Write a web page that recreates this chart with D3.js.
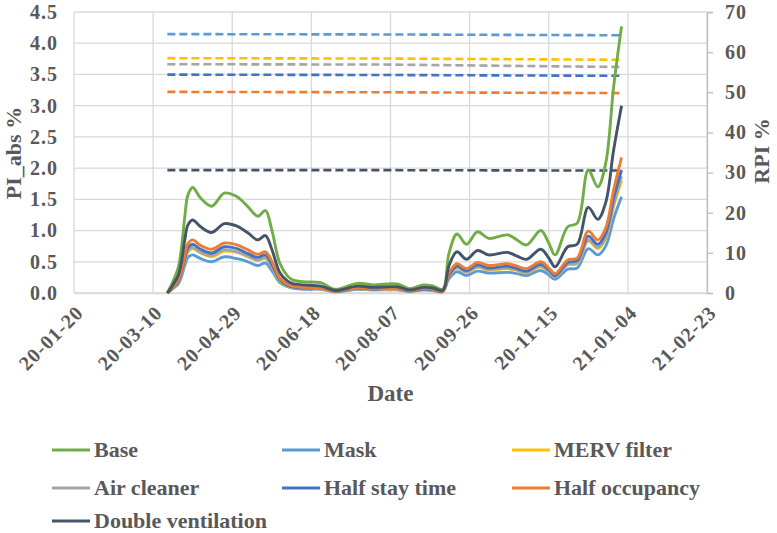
<!DOCTYPE html>
<html>
<head>
<meta charset="utf-8">
<script src="https://cdn.jsdelivr.net/npm/d3@7"></script>
<style>
  body { margin: 0; background: #fff; }
  svg text { font-family: "Liberation Serif", "Times New Roman", serif; font-weight: bold; fill: #595959; }
</style>
</head>
<body>
<div id="chart"></div>
<script>
// dates of the daily samples
const dates = [
  '2020-03-19', '2020-03-23', '2020-03-26', '2020-03-28', '2020-03-30', '2020-04-01', '2020-04-04', '2020-04-09', '2020-04-16', '2020-04-24',
  '2020-05-02', '2020-05-09', '2020-05-15', '2020-05-20', '2020-05-24', '2020-05-29', '2020-06-03', '2020-06-06', '2020-06-13', '2020-06-24',
  '2020-07-03', '2020-07-17', '2020-07-27', '2020-08-11', '2020-08-19', '2020-08-28', '2020-09-03', '2020-09-09', '2020-09-13', '2020-09-18',
  '2020-09-24', '2020-10-01', '2020-10-08', '2020-10-20', '2020-10-26', '2020-11-01', '2020-11-10', '2020-11-15', '2020-11-19', '2020-11-27',
  '2020-12-03', '2020-12-10', '2020-12-16', '2020-12-21', '2020-12-26', '2020-12-31'
];

// PI_abs % (left axis)
const base = [
  0, 0.21, 0.42, 0.74, 1.22, 1.57, 1.69, 1.52, 1.39, 1.60,
  1.54, 1.38, 1.23, 1.32, 1.01, 0.48, 0.27, 0.21, 0.18, 0.165,
  0.06, 0.155, 0.13, 0.145, 0.07, 0.13, 0.11, 0.06, 0.64, 0.945,
  0.78, 0.98, 0.875, 0.93, 0.85, 0.77, 1.00, 0.80, 0.61, 1.06,
  1.12, 1.97, 1.70, 2.08, 3.30, 4.27
];
const mask = [
  0, 0.08, 0.15, 0.27, 0.44, 0.57, 0.61, 0.55, 0.50, 0.58,
  0.55, 0.50, 0.44, 0.48, 0.36, 0.17, 0.10, 0.08, 0.06, 0.06,
  0.02, 0.06, 0.05, 0.05, 0.03, 0.05, 0.04, 0.02, 0.23, 0.34,
  0.28, 0.35, 0.32, 0.33, 0.31, 0.28, 0.36, 0.29, 0.22, 0.38,
  0.40, 0.71, 0.61, 0.75, 1.19, 1.54
];
const merv = [
  0, 0.09, 0.18, 0.31, 0.51, 0.66, 0.71, 0.64, 0.58, 0.67,
  0.65, 0.58, 0.52, 0.55, 0.42, 0.20, 0.11, 0.09, 0.08, 0.07,
  0.03, 0.07, 0.05, 0.06, 0.03, 0.05, 0.05, 0.03, 0.27, 0.40,
  0.33, 0.41, 0.37, 0.39, 0.36, 0.32, 0.42, 0.34, 0.26, 0.45,
  0.47, 0.83, 0.71, 0.87, 1.39, 1.80
];
const airCleaner = [
  0, 0.09, 0.18, 0.32, 0.52, 0.68, 0.73, 0.65, 0.60, 0.69,
  0.66, 0.59, 0.53, 0.57, 0.43, 0.21, 0.12, 0.09, 0.08, 0.07,
  0.03, 0.07, 0.06, 0.06, 0.03, 0.06, 0.05, 0.03, 0.28, 0.41,
  0.34, 0.42, 0.38, 0.40, 0.37, 0.33, 0.43, 0.34, 0.26, 0.46,
  0.48, 0.85, 0.73, 0.89, 1.42, 1.87
];
const halfStay = [
  0, 0.10, 0.19, 0.34, 0.56, 0.72, 0.78, 0.70, 0.64, 0.74,
  0.71, 0.63, 0.57, 0.61, 0.46, 0.22, 0.12, 0.10, 0.08, 0.08,
  0.03, 0.07, 0.06, 0.07, 0.03, 0.06, 0.05, 0.03, 0.29, 0.43,
  0.36, 0.45, 0.40, 0.43, 0.39, 0.35, 0.46, 0.37, 0.28, 0.49,
  0.52, 0.91, 0.78, 0.96, 1.52, 1.97
];
const halfOccupancy = [
  0, 0.11, 0.21, 0.37, 0.61, 0.79, 0.85, 0.76, 0.70, 0.80,
  0.77, 0.69, 0.62, 0.66, 0.51, 0.24, 0.14, 0.11, 0.09, 0.08,
  0.03, 0.08, 0.07, 0.07, 0.04, 0.07, 0.06, 0.03, 0.32, 0.47,
  0.39, 0.49, 0.44, 0.47, 0.43, 0.39, 0.50, 0.40, 0.31, 0.53,
  0.56, 0.99, 0.85, 1.04, 1.65, 2.17
];
const doubleVent = [
  0, 0.15, 0.29, 0.51, 0.85, 1.09, 1.17, 1.06, 0.97, 1.11,
  1.07, 0.96, 0.85, 0.92, 0.70, 0.33, 0.19, 0.15, 0.13, 0.11,
  0.04, 0.11, 0.09, 0.10, 0.05, 0.09, 0.08, 0.04, 0.44, 0.66,
  0.54, 0.68, 0.61, 0.65, 0.59, 0.54, 0.70, 0.56, 0.42, 0.74,
  0.78, 1.37, 1.18, 1.45, 2.29, 3.00
];

// RPI % (right axis, dashed)
const rpiDates = ['2020-03-19', '2020-08-07', '2020-12-31'];
const rpiMask = [64.5, 64.4, 64.2];
const rpiMerv = [58.5, 58.4, 58.1];
const rpiAirCleaner = [57.0, 56.9, 56.3];
const rpiHalfStay = [54.4, 54.3, 54.1];
const rpiHalfOccupancy = [50.1, 50.0, 49.8];
const rpiDoubleVent = [30.6, 30.6, 30.5];

const seriesNames = ['Base', 'Mask', 'MERV filter', 'Air cleaner', 'Half stay time', 'Half occupancy', 'Double ventilation'];
const colors = ['#70AD47', '#5B9BD5', '#FFC000', '#A5A5A5', '#4472C4', '#ED7D31', '#44546A'];

const xTicks = ['2020-01-20', '2020-03-10', '2020-04-29', '2020-06-18', '2020-08-07', '2020-09-26', '2020-11-15', '2021-01-04', '2021-02-23'];
const leftTicks = [0, 0.5, 1, 1.5, 2, 2.5, 3, 3.5, 4, 4.5];
const rightTicks = [0, 10, 20, 30, 40, 50, 60, 70];

const width = 777;
const height = 533;
const margin = { top: 12, right: 70, bottom: 240, left: 74 };

const parse = d3.timeParse('%Y-%m-%d');
const fmt = d3.timeFormat('%y-%m-%d');

const svg = d3.select('#chart')
  .append('svg')
  .attr('width', width)
  .attr('height', height);

const xScale = d3.scaleTime()
  .domain([parse(xTicks[0]), parse(xTicks[xTicks.length - 1])])
  .range([margin.left, width - margin.right]);

const yLeft = d3.scaleLinear()
  .domain([0, 4.5])
  .range([height - margin.bottom, margin.top]);

const yRight = d3.scaleLinear()
  .domain([0, 70])
  .range([height - margin.bottom, margin.top]);

// gridlines
const grid = svg.append('g').attr('class', 'grid');
grid.selectAll('line.h')
  .data(leftTicks)
  .join('line')
  .attr('class', 'h')
  .attr('x1', margin.left)
  .attr('x2', width - margin.right)
  .attr('y1', (d) => yLeft(d))
  .attr('y2', (d) => yLeft(d))
  .attr('stroke', '#D9D9D9')
  .attr('stroke-width', 1.3);

grid.selectAll('line.v')
  .data(xTicks)
  .join('line')
  .attr('class', 'v')
  .attr('x1', (d) => xScale(parse(d)))
  .attr('x2', (d) => xScale(parse(d)))
  .attr('y1', margin.top)
  .attr('y2', height - margin.bottom)
  .attr('stroke', '#D9D9D9')
  .attr('stroke-width', 1.3);

// left axis labels
const leftAxis = svg.append('g')
  .attr('transform', `translate(${margin.left},0)`)
  .call(d3.axisLeft(yLeft).tickValues(leftTicks).tickFormat(d3.format('.1f')).tickSize(0).tickPadding(16));
leftAxis.select('.domain').remove();
leftAxis.selectAll('text')
  .style('font-size', '20px')
  .style('letter-spacing', '1px')
  .attr('fill', '#595959');

// right axis
const rightAxis = svg.append('g')
  .attr('transform', `translate(${width - margin.right},0)`)
  .call(d3.axisRight(yRight).tickValues(rightTicks).tickSize(6).tickPadding(12));
rightAxis.select('.domain').attr('stroke', '#BFBFBF').attr('stroke-width', 1.3);
rightAxis.selectAll('.tick line').attr('stroke', '#BFBFBF').attr('stroke-width', 1.3);
rightAxis.selectAll('text')
  .style('font-size', '20px')
  .style('letter-spacing', '1px')
  .attr('fill', '#595959');

// bottom axis labels, rotated
const xAxis = svg.append('g')
  .attr('transform', `translate(0,${height - margin.bottom})`)
  .call(d3.axisBottom(xScale).tickValues(xTicks.map(parse)).tickFormat(fmt).tickSize(0));
xAxis.select('.domain').attr('stroke', '#D9D9D9').attr('stroke-width', 1.3);
xAxis.selectAll('text')
  .style('font-size', '20px')
  .style('letter-spacing', '1px')
  .attr('fill', '#595959')
  .style('text-anchor', 'end')
  .attr('x', 0)
  .attr('y', 0)
  .attr('dy', 0)
  .attr('transform', 'translate(10,21) rotate(-45)');

// dashed RPI lines
const rpiSeries = [rpiMask, rpiMerv, rpiAirCleaner, rpiHalfStay, rpiHalfOccupancy, rpiDoubleVent];
const rpiLine = d3.line()
  .x((d, i) => xScale(parse(rpiDates[i])))
  .y((d) => yRight(d));

svg.append('g')
  .selectAll('path')
  .data(rpiSeries)
  .join('path')
  .attr('d', rpiLine)
  .attr('fill', 'none')
  .attr('stroke', (d, i) => colors[i + 1])
  .attr('stroke-width', 2.6)
  .attr('stroke-dasharray', '8,4');

// solid PI_abs lines
const piSeries = [base, mask, merv, airCleaner, halfStay, halfOccupancy, doubleVent];
const piLine = d3.line()
  .x((d, i) => xScale(parse(dates[i])))
  .y((d) => yLeft(d))
  .curve(d3.curveCatmullRom.alpha(0.5));

svg.append('g')
  .selectAll('path')
  .data(piSeries)
  .join('path')
  .attr('d', piLine)
  .attr('fill', 'none')
  .attr('stroke', (d, i) => colors[i])
  .attr('stroke-width', 2.9)
  .attr('stroke-linejoin', 'round');

// axis titles
svg.append('text')
  .attr('transform', 'translate(21,153) rotate(-90)')
  .attr('text-anchor', 'middle')
  .style('font-size', '22px')
  .text('PI_abs %');

svg.append('text')
  .attr('transform', 'translate(769,151) rotate(-90)')
  .attr('text-anchor', 'middle')
  .style('font-size', '22px')
  .text('RPI %');

svg.append('text')
  .attr('x', (margin.left + width - margin.right) / 2)
  .attr('y', 401)
  .attr('text-anchor', 'middle')
  .style('font-size', '23px')
  .text('Date');

// legend, 3 columns
const legendX = [52, 282, 512];
const legendY = [450, 488, 521];
const legend = svg.append('g')
  .selectAll('g')
  .data(seriesNames)
  .join('g')
  .attr('transform', (d, i) => `translate(${legendX[i % 3]},${legendY[Math.floor(i / 3)]})`);

legend.append('line')
  .attr('x1', 0)
  .attr('x2', 38)
  .attr('stroke', (d, i) => colors[i])
  .attr('stroke-width', 3);

legend.append('text')
  .attr('x', 42)
  .attr('y', 7)
  .style('font-size', '22px')
  .text((d) => d);
</script>
</body>
</html>
